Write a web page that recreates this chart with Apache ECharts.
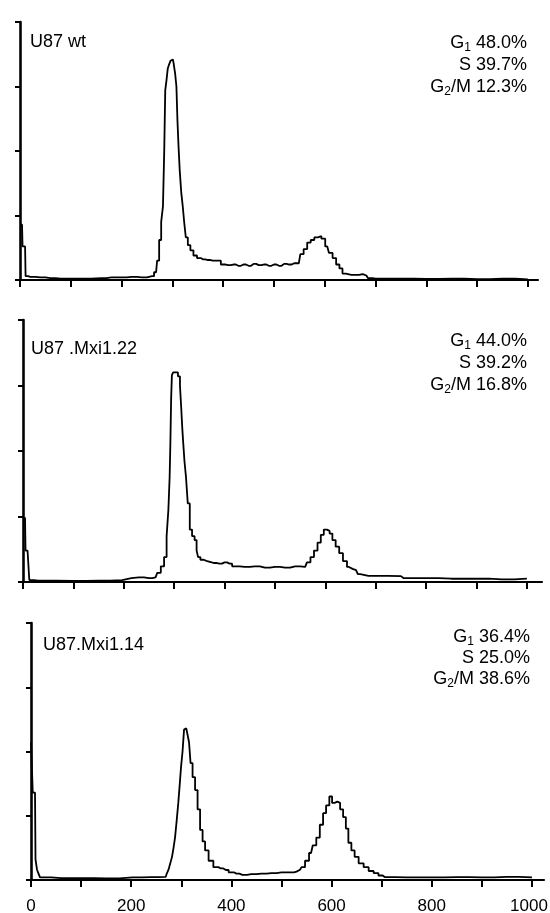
<!DOCTYPE html>
<html>
<head>
<meta charset="utf-8">
<script src="https://cdn.jsdelivr.net/npm/echarts@6/dist/echarts.min.js"></script>
<style>
html,body{margin:0;padding:0;background:#fff;}
#chart{width:550px;height:913px;}
</style>
</head>
<body>
<div id="chart"></div>
<script>
// DNA content (channel) and cell counts
const wtChannel = [0,4,6,10,12,20,40,60,80,120,160,180,200,220,240,260,268,272,276,280,283,285,287,290,292,295,298,301,304,307,309,311,313,316,319,322,325,328,333,338,345,352,360,370,380,391,400,410,420,430,440,450,460,470,480,490,500,510,520,530,540,549,555,562,569,576,583,590,597,605,612,619,626,632,638,645,660,675,682,688,700,750,800,850,900,950,1000];
const wtCount   = [43,43,26,26,3,2.5,2,1.5,1,1,1.5,2,2,2.5,2,3,6,15,31,45,57,100,147,155,164,167,170,171,168,160,150,124,105,85,68,57,44,33,27,23,19,17,16,15.5,15,15,12,11.5,12,11,12,11,12.5,11.5,12,11,12,11,12.5,12,13,13,20,24,29,31,33,34,32,26,21,17,12,9,5,4,4,4.5,3.5,1.5,1,1,0.8,1,0.7,1,0.5];

const m22Channel = [0,4,6,12,13,30,100,150,197,200,230,250,263,270,277,283,287,290,292,293,295,296,300,305,310,313,315,317,319,322,325,329,333,338,343,346,349,355,362,369,380,390,400,410,420,440,460,480,500,520,540,560,567,574,581,588,594,600,606,611,617,624,631,639,647,654,661,668,671,700,750,755,800,850,900,950,1000];
const m22Count   = [49,49,24,24,1.5,1,0.8,1,1.5,3,3.5,3,3.5,7,12,19,35,55,80,106,140,158,160,160,157,150,133,118,106,92,80,60,40,35,32,24,19,17,16,15,14.5,14,15,14,12,11.5,12,11,11.5,11,12,11.5,15,19,24,30,36,40,39,37,32,27,22,16,11.5,10,9,6,4.6,4.6,4.5,3,3,2.5,2.5,2,2.5];

const m14Channel = [0,3,4,8,10,14,16,20,60,100,150,203,240,269,273,276,280,283,286,289,292,296,298,301,304,307,310,314,317,320,325,330,335,340,345,350,359,369,379,389,400,410,422,440,460,480,500,520,530,537,543,551,559,566,573,580,586,592,599,603,609,614,620,626,631,636,643,649,659,669,679,689,698,706,750,800,850,900,950,1000];
const m14Count   = [107,107,68,68,16,8,5,2,1.5,1.5,1.2,2,2.3,2.5,5,8,13,18,25,33,45,60,75,88,100,117,118,114,107,91,80,70,55,39,30,23,15,10,9,7.8,6,5,4,4.5,5,5.4,6,6,6.5,8,10,15,21,27,33,43,52,58,65,60,61,60,55,49,40,29,23,18,13,10,7,5.4,3.5,2.3,2,2,2.3,2,2.5,2];

const panelNames = ['U87 wt', 'U87 .Mxi1.22', 'U87.Mxi1.14'];
const g1Values  = ['48.0%', '44.0%', '36.4%'];
const sValues   = ['39.7%', '39.2%', '25.0%'];
const g2mValues = ['12.3%', '16.8%', '38.6%'];

const xTickValues  = [0,100,200,300,400,500,600,700,800,900,1000];
const xLabelValues = [0,200,400,600,800,1000];

const FONT = '"Liberation Sans", Arial, Helvetica, sans-serif';

function zip(a, b) { return a.map((v, i) => [v, b[i]]); }

const gridDefs = [
  {left: 20, top: 22, width: 518, height: 258, xMax: 1020},
  {left: 23, top: 320, width: 519, height: 262, xMax: 1030},
  {left: 31, top: 623, width: 513, height: 257, xMax: 1024}
];

const grids = gridDefs.map(g => ({left: g.left, top: g.top, width: g.width, height: g.height, containLabel: false, outerBoundsMode: 'none'}));

const xAxes = gridDefs.map((g, i) => ({
  type: 'value', gridIndex: i, min: 0, max: g.xMax,
  axisLine: {show: true, lineStyle: {color: '#000', width: 2.2}},
  axisTick: {show: true, customValues: xTickValues, length: 7, lineStyle: {color: '#000', width: 2}},
  axisLabel: i === 2 ? {
    show: true, customValues: xLabelValues, color: '#000', fontSize: 17, fontFamily: FONT, margin: 18,
    formatter: v => (v === 1000 ? '{e|1000}' : String(v)),
    rich: {e: {fontSize: 17, fontFamily: FONT, color: '#000', padding: [0, 6, 0, 0]}}
  } : {show: false},
  splitLine: {show: false}
}));

const yAxes = gridDefs.map((g, i) => ({
  type: 'value', gridIndex: i, min: 0, max: 200, interval: 50,
  axisLine: {show: true, lineStyle: {color: '#000', width: 2.6}},
  axisTick: {show: true, length: 5, lineStyle: {color: '#000', width: 2}},
  axisLabel: {show: false},
  splitLine: {show: false}
}));

const dataSets = [zip(wtChannel, wtCount), zip(m22Channel, m22Count), zip(m14Channel, m14Count)];

const series = dataSets.map((d, i) => ({
  type: 'line', xAxisIndex: i, yAxisIndex: i, data: d,
  step: 'middle', showSymbol: false, symbol: 'none', silent: true,
  lineStyle: {color: '#000', width: 1.8},
  animation: false
}));

const baseText = {fontFamily: FONT, fontSize: 18, fontWeight: 'normal', color: '#000', lineHeight: 22};
const rich = {
  s1: {fontFamily: FONT, fontSize: 12, color: '#000', lineHeight: 15, verticalAlign: 'bottom'},
  s2: {fontFamily: FONT, fontSize: 12, color: '#000', lineHeight: 9, verticalAlign: 'bottom'}
};

const leftPos = [{left: 30, top: 31}, {left: 31, top: 338}, {left: 43, top: 634}];
const rightPos = [
  {right: 23, tops: [32, 54, 76]},
  {right: 23, tops: [330, 352, 374]},
  {right: 20, tops: [626, 647, 668]}
];

const titles = [];
panelNames.forEach((name, i) => {
  titles.push({text: name, left: leftPos[i].left, top: leftPos[i].top, padding: 0, textStyle: baseText});
  const rp = rightPos[i];
  titles.push({text: 'G{s1|1} ' + g1Values[i], right: rp.right, top: rp.tops[0], padding: 0, textStyle: Object.assign({rich: rich}, baseText)});
  titles.push({text: 'S ' + sValues[i], right: rp.right, top: rp.tops[1], padding: 0, textStyle: baseText});
  titles.push({text: 'G{s2|2}/M ' + g2mValues[i], right: rp.right, top: rp.tops[2], padding: 0, textStyle: Object.assign({rich: rich}, baseText)});
});

const chart = echarts.init(document.getElementById('chart'), null, {renderer: 'canvas'});
chart.setOption({
  animation: false,
  backgroundColor: '#fff',
  title: titles,
  grid: grids,
  xAxis: xAxes,
  yAxis: yAxes,
  series: series
});
</script>
</body>
</html>
